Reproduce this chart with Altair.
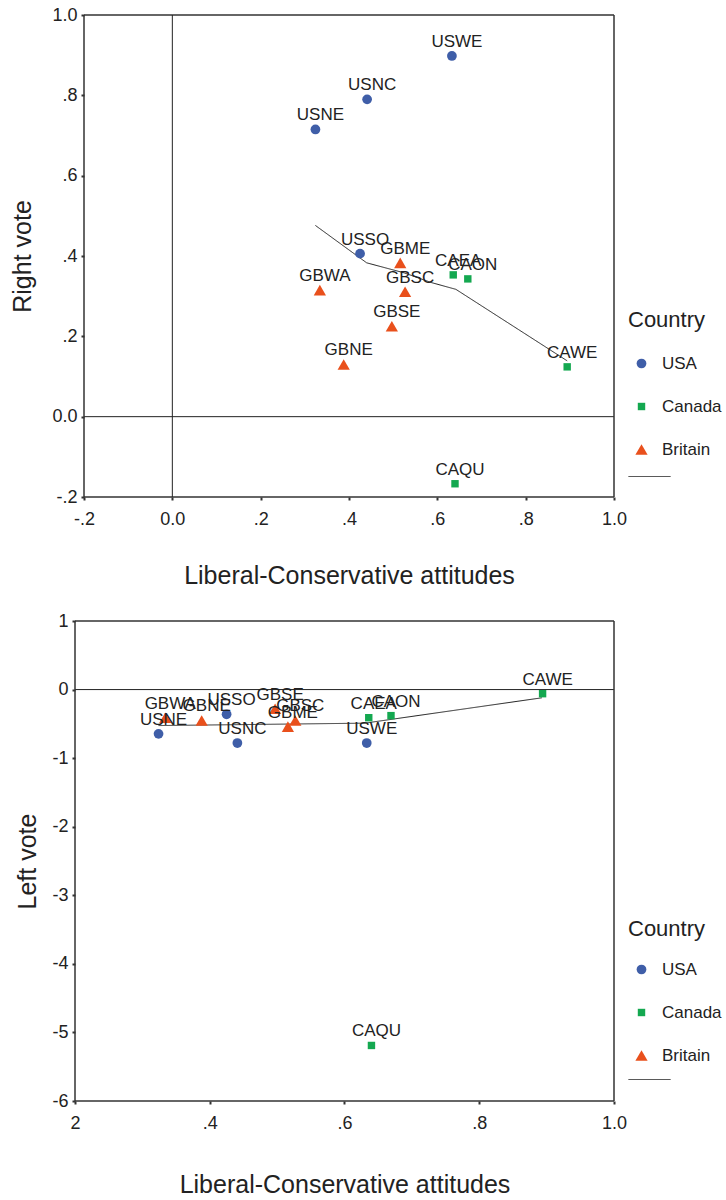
import altair as alt
import pandas as pd

# ---------------- data ----------------
regions = ["USWE", "USNC", "USNE", "USSO", "GBME", "CAEA", "CAON",
           "GBWA", "GBSC", "GBSE", "GBNE", "CAWE", "CAQU"]
countries = ["USA", "USA", "USA", "USA", "Britain", "Canada", "Canada",
             "Britain", "Britain", "Britain", "Britain", "Canada", "Canada"]
lib_cons = [0.633, 0.441, 0.324, 0.425, 0.516, 0.636, 0.669,
            0.334, 0.527, 0.497, 0.388, 0.894, 0.640]
right_vote = [0.898, 0.790, 0.715, 0.406, 0.383, 0.353, 0.343,
              0.315, 0.311, 0.225, 0.130, 0.124, -0.167]
left_vote = [-0.78, -0.78, -0.646, -0.36, -0.54, -0.41, -0.38,
             -0.41, -0.45, -0.28, -0.45, -0.06, -5.19]

top_fit_x = [0.324, 0.440, 0.525, 0.586, 0.642, 0.894]
top_fit_y = [0.476, 0.383, 0.358, 0.334, 0.317, 0.139]
bottom_fit_x = [0.324, 0.630, 0.893]
bottom_fit_y = [-0.525, -0.49, -0.12]

country_order = ["USA", "Canada", "Britain"]
country_colors = ["#3f5ea8", "#14a850", "#e9501c"]
country_shapes = ["circle", "square", "triangle-up"]
country_sizes = [95, 55, 150]

top_x_ticks = [-0.2, 0.0, 0.2, 0.4, 0.6, 0.8, 1.0]
top_x_labels = ["-.2", "0.0", ".2", ".4", ".6", ".8", "1.0"]
top_y_ticks = [-0.2, 0.0, 0.2, 0.4, 0.6, 0.8, 1.0]
top_y_labels = ["-.2", "0.0", ".2", ".4", ".6", ".8", "1.0"]
bottom_x_ticks = [0.2, 0.4, 0.6, 0.8, 1.0]
bottom_x_labels = ["2", ".4", ".6", ".8", "1.0"]
bottom_y_ticks = [-6, -5, -4, -3, -2, -1, 0, 1]
bottom_y_labels = ["-6", "-5", "-4", "-3", "-2", "-1", "0", "1"]

FONT = "Liberation Sans, Arial, sans-serif"
NARROW = "Liberation Sans Narrow, Arial Narrow, Liberation Sans, Arial, sans-serif"
INK = "#222222"
FRAME = "#333333"

points_df = pd.DataFrame({"region": regions, "country": countries,
                          "x": lib_cons, "right": right_vote, "left": left_vote})
one = pd.DataFrame({"v": [0]})


def label_expr(vals, labs):
    expr = "''"
    for v, l in reversed(list(zip(vals, labs))):
        expr = f"abs(datum.value - ({v})) < 1e-6 ? '{l}' : " + expr
    return expr


def axis(vals, labs, title, title_pad, label_pad, offset=0):
    return alt.Axis(values=vals, labelExpr=label_expr(vals, labs), title=title,
                    grid=False, domain=False, ticks=True, tickSize=3, tickWidth=2,
                    tickColor=FRAME, labelFontSize=18, labelFont=FONT,
                    labelColor=INK, labelFlush=False, labelOverlap=False,
                    titleFont=FONT, titleFontSize=25,
                    titleFontWeight="normal", titleColor=INK, offset=offset,
                    labelPadding=label_pad, titlePadding=title_pad)


def panel(yfield, ytitle, xdom, xrange, ydom, xt, xl, yt, yl, fitx, fity, w, h,
          vline, ytitle_pad, yoffset, xtitle_pad, legend_y, line_legend_y, leg_title_pad):
    X = alt.X("x:Q", scale=alt.Scale(domain=xdom, range=xrange, nice=False, zero=False),
              axis=axis(xt, xl, "Liberal-Conservative attitudes", xtitle_pad, 10))
    Y = alt.Y(f"{yfield}:Q", scale=alt.Scale(domain=ydom, nice=False, zero=False),
              axis=axis(yt, yl, ytitle, ytitle_pad, 4, yoffset))
    leg = alt.Legend(title="Country", orient="none", legendX=w + 14, legendY=legend_y,
                     titleFont=FONT, titleFontSize=22, titleFontWeight="normal",
                     titleColor=INK, labelFont=FONT, labelFontSize=17, labelColor=INK,
                     rowPadding=25, titlePadding=leg_title_pad, symbolSize=90, labelOffset=12,
                     symbolOffset=5, symbolStrokeWidth=0)
    base = alt.Chart(points_df)
    pts = base.mark_point(filled=True, opacity=1, strokeWidth=0).encode(
        x=X, y=Y,
        color=alt.Color("country:N", scale=alt.Scale(domain=country_order, range=country_colors), legend=leg),
        shape=alt.Shape("country:N", scale=alt.Scale(domain=country_order, range=country_shapes), legend=leg),
        size=alt.Size("country:N", scale=alt.Scale(type="ordinal", domain=country_order, range=country_sizes),
                      legend=None),
    )
    txt = base.mark_text(font=NARROW, fontSize=17, color=INK, dx=5, dy=-9,
                         baseline="alphabetic", align="center").encode(
        x=alt.X("x:Q"), y=alt.Y(f"{yfield}:Q"), text="region:N")
    fit_df = pd.DataFrame({"x": fitx, yfield: fity, "fit": ["fit"] * len(fitx)})
    line = alt.Chart(fit_df).mark_line(color="#222222", strokeWidth=1).encode(
        x=alt.X("x:Q"), y=alt.Y(f"{yfield}:Q"),
        strokeDash=alt.StrokeDash("fit:N", scale=alt.Scale(domain=["fit"], range=[[1, 0]]),
                                  legend=alt.Legend(title=None, orient="none", legendX=w + 14,
                                                    legendY=line_legend_y, symbolType="stroke",
                                                    symbolSize=1764, labelExpr="''",
                                                    symbolStrokeColor="#222222",
                                                    symbolStrokeWidth=1, labelFontSize=17)))
    rule = alt.Chart(one).mark_rule(color="#222222", strokeWidth=1)
    frame = alt.Chart(one).mark_rule(color=FRAME, strokeWidth=1.5)
    layers = [
        rule.encode(y=alt.datum(0), x=alt.datum(xdom[0]), x2=alt.datum(xdom[1])),
        frame.encode(x=alt.datum(xdom[0])),
        frame.encode(x=alt.datum(xdom[1])),
        frame.encode(y=alt.datum(ydom[0]), x=alt.datum(xdom[0]), x2=alt.datum(xdom[1])),
        frame.encode(y=alt.datum(ydom[1]), x=alt.datum(xdom[0]), x2=alt.datum(xdom[1])),
    ]
    if vline:
        layers.append(rule.encode(x=alt.datum(0)))
    layers += [line, pts, txt]
    return alt.layer(*layers).properties(
        width=w, height=h,
        view=alt.ViewBackground(stroke="transparent", strokeWidth=0, fill="transparent"))


top = panel("right", "Right vote", [-0.2, 1.0], [0, 530], [-0.2, 1.0], top_x_ticks, top_x_labels,
            top_y_ticks, top_y_labels, top_fit_x, top_fit_y, 530, 482, True,
            16, 0, 35, 295, 440, 23)
bottom = panel("left", "Left vote", [0.2, 1.0], [-9, 530], [-6, 1], bottom_x_ticks, bottom_x_labels,
               bottom_y_ticks, bottom_y_labels, bottom_fit_x, bottom_fit_y, 530, 480, False,
               11, 9, 40, 298, 437, 20)

chart = alt.vconcat(top, bottom, spacing=24).resolve_scale(
    color="independent", shape="independent", size="independent", strokeDash="independent"
).properties(
    padding={"left": 10, "top": 6, "right": 0, "bottom": 0}
).configure_view(stroke="transparent", strokeWidth=0, strokeOpacity=0).configure(background="white")

chart.save("out.html", embed_options={"renderer": "svg", "actions": False})
